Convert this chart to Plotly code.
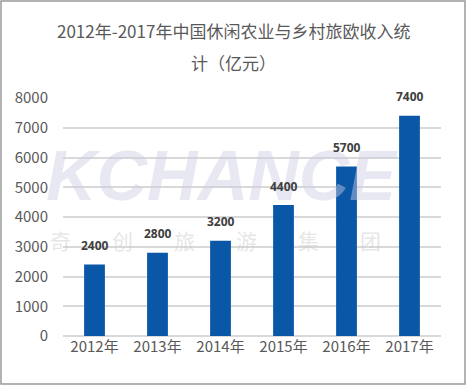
import plotly.graph_objects as go

categories = ["2012年", "2013年", "2014年", "2015年", "2016年", "2017年"]
values = [2400, 2800, 3200, 4400, 5700, 7400]
y_ticks = [0, 1000, 2000, 3000, 4000, 5000, 6000, 7000, 8000]
title_line1 = "2012年-2017年中国休闲农业与乡村旅欧收入统"
title_line2 = "计（亿元）"
watermark_en = "KCHANCE"
watermark_cn = ["奇", "创", "旅", "游", "集", "团"]

W, H = 468, 386
L, R, T, B = 63, 27, 98, 50
pw, ph = W - L - R, H - T - B

def px(x):
    return (x - L) / pw

def py(y):
    return (H - B - y) / ph

FONT = "Noto Sans CJK SC, Microsoft YaHei, sans-serif"

fig = go.Figure(go.Bar(
    x=categories, y=values,
    marker=dict(color="#0B57A7", line=dict(width=0)),
    width=0.33,
))

annotations = []
# watermark
annotations.append(dict(
    x=px(222), y=py(176), xref="paper", yref="paper", text="<b><i>" + watermark_en + "</i></b>",
    showarrow=False, font=dict(family="Liberation Sans, Arial", size=70, color="rgba(205,205,228,0.45)"),
    xanchor="center", yanchor="middle"))
for i, ch in enumerate(watermark_cn):
    annotations.append(dict(
        x=px(60 + i * 62), y=py(240), xref="paper", yref="paper", text=ch,
        showarrow=False, font=dict(family=FONT, size=21, color="rgba(200,200,200,0.45)"),
        xanchor="center", yanchor="middle"))

# data labels
for c, v in zip(categories, values):
    annotations.append(dict(
        x=c, y=v, xref="x", yref="y", text="<b>%d</b>" % v, showarrow=False,
        yshift=19, font=dict(family="Open Sans, DejaVu Sans, sans-serif", size=12, color="#404040"),
        xanchor="center", yanchor="middle"))

# title
annotations.append(dict(x=px(233), y=py(31), xref="paper", yref="paper", text=title_line1,
                        showarrow=False, font=dict(family=FONT, size=17, color="#595959"),
                        xanchor="center", yanchor="middle"))
annotations.append(dict(x=px(233), y=py(62), xref="paper", yref="paper", text=title_line2,
                        showarrow=False, font=dict(family=FONT, size=17, color="#595959"),
                        xanchor="center", yanchor="middle"))

fig.update_layout(
    width=W, height=H,
    margin=dict(l=L, r=R, t=T, b=B, pad=0),
    paper_bgcolor="white", plot_bgcolor="white",
    showlegend=False,
    annotations=annotations,
    shapes=[dict(type="rect", xref="paper", yref="paper",
                 x0=px(1), x1=px(465), y0=py(384), y1=py(1),
                 line=dict(color="#9A9A9A", width=1.5), fillcolor="rgba(0,0,0,0)", layer="below")],
    xaxis=dict(showgrid=False, showline=False, ticks="",
               tickfont=dict(family=FONT, size=15, color="#595959")),
    yaxis=dict(range=[0, 8000], tickvals=y_ticks, showgrid=True, gridcolor="#D9D9D9", gridwidth=1.5,
               zeroline=True, zerolinecolor="#D9D9D9", zerolinewidth=1.5, showline=False, ticks="",
               ticklabelstandoff=14,
               tickfont=dict(family=FONT, size=15, color="#595959")),
)

fig.write_html("out.html", config={"displayModeBar": False},
               post_script="document.body.style.margin='0';document.body.style.overflow='hidden';")
